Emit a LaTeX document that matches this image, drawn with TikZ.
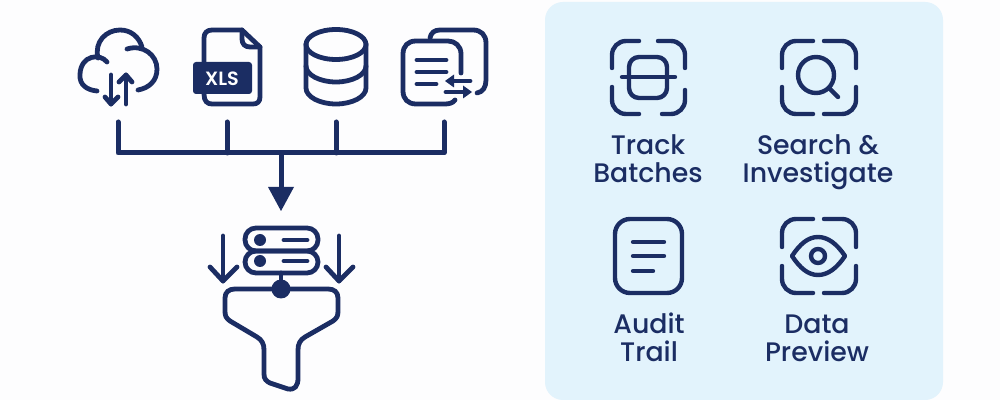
\documentclass[tikz,border=0pt]{standalone}
\usepackage{fontspec}
\setmainfont{Poppins Medium}
\newfontfamily\xlsfont{Poppins SemiBold}
\usepackage{tikz}
\definecolor{navy}{HTML}{1B2D63}
\definecolor{panel}{HTML}{E2F3FC}
\definecolor{paper}{HTML}{FDFDFE}

\begin{document}
\begin{tikzpicture}[x=0.5pt,y=-0.5pt,
    icon/.style={draw=navy,line width=2.4pt,line cap=round,line join=round,fill=none},
    bar/.style={draw=navy,line width=2.5pt,line cap=round,line join=round},
    thinicon/.style={icon,line width=2.2pt},
    dotmark/.style={circle,fill=navy,draw=none,inner sep=0pt,minimum size=#1},
    caption/.style={text=navy,font=\fontsize{13.4}{14.2}\selectfont,align=center,anchor=base,inner sep=0pt}]
  \fill[paper] (0,0) rectangle (1000,400) ;
  \useasboundingbox (0,0) rectangle (1000,400) ;
  \fill[panel,rounded corners=9pt] (545,2) rectangle (943,400) ;
  % cloud
  \draw[icon] (107,62) .. controls (100,53) and (81,55) .. (80,74) .. controls (79,85) and (87,90) .. (97,91) ;
  \draw[icon] (98,58) .. controls (94,42) and (106,30) .. (120,30) .. controls (131,30) and (139,37) .. (142,47) ;
  \draw[icon] (127,49) .. controls (143,44) and (157,55) .. (157,69) .. controls (157,81) and (149,88) .. (138,90) ;
  \draw[icon] (111,75) -- (111,104) ;
  \draw[icon] (105,97) -- (111,104) -- (118,97) ;
  \draw[icon] (126,104) -- (126,75) ;
  \draw[icon] (119,82) -- (126,75) -- (132,82) ;
  % xls file
  \draw[icon] (204,63) -- (204,38) .. controls (204,33) and (207,30) .. (212,30) -- (242,30) -- (260,47) -- (260,97) .. controls (260,102) and (257,104) .. (253,104) -- (212,104) .. controls (207,104) and (204,101) .. (204,94) ;
  \draw[icon] (242,30) -- (242,39) .. controls (242,44) and (245,47) .. (250,47) -- (260,47) ;
  \fill[navy,rounded corners=1.5pt] (193,62) rectangle (252,94) ;
  \node[text=white,font=\fontsize{9.6}{10}\xlsfont,inner sep=0pt] (xls) at (222,78.5) {XLS} ;
  % database
  \draw[icon] (336,44.5) ellipse [x radius=30,y radius=15] ;
  \draw[icon] (306,44) -- (306,88) .. controls (306,97) and (320,104) .. (336,104) .. controls (352,104) and (366,97) .. (366,88) -- (366,44) ;
  \draw[icon] (306,66) .. controls (306,75) and (320,82) .. (336,82) .. controls (352,82) and (366,75) .. (366,66) ;
  % documents
  \draw[icon] (461,73) -- (461,54) .. controls (461,46) and (455,41) .. (448,41) -- (416,41) .. controls (408,41) and (403,46) .. (403,54) -- (403,91) .. controls (403,99) and (408,104) .. (416,104) -- (445,104) .. controls (449,104) and (453,103) .. (455,100) ;
  \draw[icon] (430,38) .. controls (431,33) and (434,30) .. (440,30) -- (473,30) .. controls (481,30) and (486,35) .. (486,43) -- (486,80) .. controls (486,87) and (483,92) .. (477,93) ;
  \draw[icon] (417,60) -- (446,60) ;
  \draw[icon] (417,72) -- (446,72) ;
  \draw[icon] (417,84) -- (436,84) ;
  \draw[icon] (470,81) -- (452,81) ;
  \fill[navy] (445,81) -- (454,74.5) -- (454,87.5) -- cycle ;
  \draw[icon] (446,92) -- (464,92) ;
  \fill[navy] (472,92) -- (463,85.5) -- (463,98.5) -- cycle ;
  % inputs joined onto one bus
  \coordinate (top1) at (118,122) ;
  \coordinate (top2) at (227,122) ;
  \coordinate (top3) at (336,122) ;
  \coordinate (top4) at (444,122) ;
  \coordinate (bus1) at (118,153) ;
  \coordinate (bus2) at (227,153) ;
  \coordinate (bus3) at (336,153) ;
  \coordinate (bus4) at (444,153) ;
  \coordinate (busmid) at (281,153) ;
  \coordinate (tip) at (281,211) ;
  \draw[bar] (top1) -- (bus1) -- (bus4) -- (top4) ;
  \draw[bar] (top2) -- (bus2) ;
  \draw[bar] (top3) -- (bus3) ;
  \draw[bar,line cap=butt] (busmid) -- (281,190) ;
  \fill[navy] (tip) -- (268,187) -- (294,187) -- cycle ;
  % server and funnel
  \draw[icon,rounded corners=5.5pt] (245,228) rectangle (318,251) ;
  \draw[icon,rounded corners=5.5pt] (245,251) rectangle (318,273) ;
  \node[dotmark=6pt] (led1) at (260,240) {} ;
  \node[dotmark=6pt] (led2) at (260,261) {} ;
  \draw[icon] (284,240) -- (307,240) ;
  \draw[icon] (284,261) -- (307,261) ;
  \node[dotmark=9.5pt] (hub) at (281,289) {} ;
  \draw[icon] (281,273) -- (hub) ;
  \draw[icon] (235,289) -- (328,289) .. controls (334,289) and (338,292) .. (338,298) -- (338,311) .. controls (338,316) and (337,318) .. (333,321) -- (305,337) .. controls (300,340) and (298,344) .. (298,350) -- (298,378) .. controls (298,386) and (295,390) .. (288,389) -- (270,383) .. controls (266,381) and (264,379) .. (264,374) -- (264,350) .. controls (264,344) and (262,340) .. (257,337) -- (230,321) .. controls (226,318) and (225,316) .. (225,311) -- (225,298) .. controls (225,292) and (229,289) .. (235,289) -- cycle ;
  \draw[icon] (223,236) -- (223,281) ;
  \draw[icon] (210,267) -- (223,281) -- (237,267) ;
  \draw[icon] (339,236) -- (339,281) ;
  \draw[icon] (326,267) -- (339,281) -- (353,267) ;
  % track batches
  \draw[thinicon,rounded corners=7pt] (612,68) -- (612,41) -- (639,41) ;
  \draw[thinicon,rounded corners=7pt] (658,41) -- (685,41) -- (685,68) ;
  \draw[thinicon,rounded corners=7pt] (612,87) -- (612,114) -- (639,114) ;
  \draw[thinicon,rounded corners=7pt] (662,114) -- (685,114) -- (685,90) ;
  \draw[thinicon,rounded corners=5pt] (629,57) rectangle (667,98) ;
  \draw[thinicon] (622,77) -- (675,77) ;
  \node[caption] (track) at (648,182.5) {Track\\Batches} ;
  % search
  \draw[thinicon,rounded corners=7pt] (782,68) -- (782,41) -- (813,41) ;
  \draw[thinicon,rounded corners=7pt] (824,41) -- (856,41) -- (856,68) ;
  \draw[thinicon,rounded corners=7pt] (782,87) -- (782,114) -- (813,114) ;
  \draw[thinicon,rounded corners=7pt] (824,114) -- (856,114) -- (856,87) ;
  \draw[thinicon] (816,75) circle [radius=18] ;
  \draw[thinicon] (829,88) -- (838,97) ;
  \node[caption] (search) at (818,182.5) {Search \&\\Investigate} ;
  % audit trail
  \draw[thinicon,rounded corners=7.5pt] (615,219) rectangle (682,293) ;
  \draw[thinicon] (633,242) -- (664,242) ;
  \draw[thinicon] (633,256) -- (664,256) ;
  \draw[thinicon] (633,271) -- (653,271) ;
  \node[caption] (audit) at (649,361.5) {Audit\\Trail} ;
  % data preview
  \draw[thinicon,rounded corners=7pt] (782,247) -- (782,219) -- (813,219) ;
  \draw[thinicon,rounded corners=7pt] (824,219) -- (856,219) -- (856,247) ;
  \draw[thinicon,rounded corners=7pt] (782,266) -- (782,293) -- (813,293) ;
  \draw[thinicon,rounded corners=7pt] (824,293) -- (856,293) -- (856,266) ;
  \draw[thinicon] (792,256) .. controls (800,244) and (808,237) .. (818,237) .. controls (828,237) and (837,244) .. (845,256) .. controls (837,268) and (828,275) .. (818,275) .. controls (808,275) and (800,268) .. (792,256) -- cycle ;
  \draw[thinicon] (818,256) circle [radius=7] ;
  \node[caption] (preview) at (817,361.5) {Data\\Preview} ;
\end{tikzpicture}
\end{document}
